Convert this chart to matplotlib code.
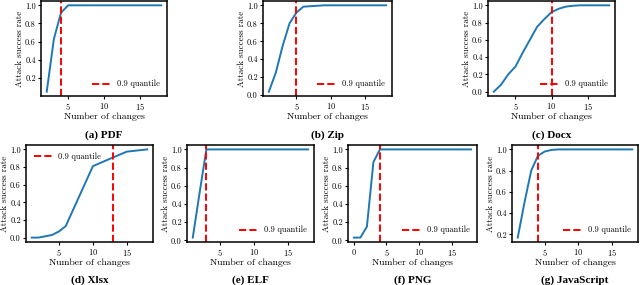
import matplotlib
matplotlib.use("Agg")
import matplotlib.pyplot as plt
from matplotlib.ticker import MultipleLocator, FormatStrFormatter

plt.rcParams["font.family"] = "serif"
plt.rcParams["font.serif"] = ["cmr10", "DejaVu Serif"]
plt.rcParams["axes.formatter.use_mathtext"] = True
plt.rcParams["mathtext.fontset"] = "cm"

# data
pdf_x = [2, 3, 4, 5, 6, 7, 8, 9, 10, 11, 12, 13, 14, 15, 16, 17, 18]
pdf_y = [0.05, 0.63, 0.92, 1.0, 1.0, 1.0, 1.0, 1.0, 1.0, 1.0, 1.0, 1.0, 1.0, 1.0, 1.0, 1.0, 1.0]

zip_x = [1, 2, 3, 4, 5, 6, 7, 8, 9, 10, 11, 12, 13, 14, 15, 16, 17, 18]
zip_y = [0.04, 0.25, 0.55, 0.80, 0.92, 0.985, 0.99, 0.995, 1.0, 1.0, 1.0, 1.0, 1.0, 1.0, 1.0, 1.0, 1.0, 1.0]

docx_x = [2, 3, 4, 5, 6, 7, 8, 9, 10, 11, 12, 13, 14, 15, 16, 17, 18]
docx_y = [0.0, 0.08, 0.20, 0.29, 0.45, 0.60, 0.75, 0.84, 0.92, 0.96, 0.985, 0.995, 1.0, 1.0, 1.0, 1.0, 1.0]

xlsx_x = [1, 2, 4, 5, 6, 8, 10, 13, 15, 18]
xlsx_y = [0.0, 0.0, 0.03, 0.07, 0.13, 0.47, 0.81, 0.91, 0.975, 1.0]

elf_x = [1, 2, 3, 4, 5, 6, 7, 8, 9, 10, 11, 12, 13, 14, 15, 16, 17, 18]
elf_y = [0.03, 0.52, 1.0, 1.0, 1.0, 1.0, 1.0, 1.0, 1.0, 1.0, 1.0, 1.0, 1.0, 1.0, 1.0, 1.0, 1.0, 1.0]

png_x = [0, 1, 2, 3, 4, 5, 6, 7, 8, 9, 10, 11, 12, 13, 14, 15, 16, 17, 18]
png_y = [0.03, 0.03, 0.15, 0.86, 1.0, 1.0, 1.0, 1.0, 1.0, 1.0, 1.0, 1.0, 1.0, 1.0, 1.0, 1.0, 1.0, 1.0, 1.0]

js_x = [1, 2, 3, 4, 5, 6, 7, 8, 9, 10, 11, 12, 13, 14, 15, 16, 17, 18]
js_y = [0.17, 0.50, 0.80, 0.94, 0.98, 0.995, 1.0, 1.0, 1.0, 1.0, 1.0, 1.0, 1.0, 1.0, 1.0, 1.0, 1.0, 1.0]

panels = [
    ("(a) PDF", pdf_x, pdf_y, 4, "lower right"),
    ("(b) Zip", zip_x, zip_y, 5, "lower right"),
    ("(c) Docx", docx_x, docx_y, 10, "lower right"),
    ("(d) Xlsx", xlsx_x, xlsx_y, 13, "upper left"),
    ("(e) ELF", elf_x, elf_y, 3, "lower right"),
    ("(f) PNG", png_x, png_y, 4, "lower right"),
    ("(g) JavaScript", js_x, js_y, 4, "lower right"),
]

W, H = 640, 285
# axes boxes in pixels: left, right, top, bottom
boxes = [
    (41, 167, 1, 96),
    (263, 392, 1, 96),
    (488, 615, 1, 96),
    (26, 153, 145, 242),
    (187, 314, 145, 242),
    (348, 477, 145, 242),
    (512, 638, 145, 242),
]
title_y = [135, 135, 135, 280, 280, 280, 280]

fig = plt.figure(figsize=(W / 100, H / 100), dpi=100)

for (title, x, y, q, loc), (l, r, t, b), ty in zip(panels, boxes, title_y):
    ax = fig.add_axes([l / W, 1 - b / H, (r - l) / W, (b - t) / H])
    ax.plot(x, y, color="#1f77b4", lw=1.4)
    ax.axvline(q, color="red", ls="--", lw=1.4, label="0.9 quantile")
    ax.yaxis.set_major_locator(MultipleLocator(0.2))
    ax.yaxis.set_major_formatter(FormatStrFormatter("%.1f"))
    ax.set_xlabel("Number of changes", fontsize=7, labelpad=0)
    ax.set_ylabel("Attack success rate", fontsize=6.5, labelpad=1)
    ax.tick_params(labelsize=6, length=2.5, pad=1.2, width=0.8)
    for s in ax.spines.values():
        s.set_linewidth(1.1)
    ax.legend(loc=loc, fontsize=6, frameon=False, handlelength=2.2)
    fig.text((l + r) / 2 / W, 1 - ty / H, title, ha="center", va="center",
             fontsize=8, fontweight="bold", family="Liberation Serif")

fig.savefig("out.png", dpi=100)
